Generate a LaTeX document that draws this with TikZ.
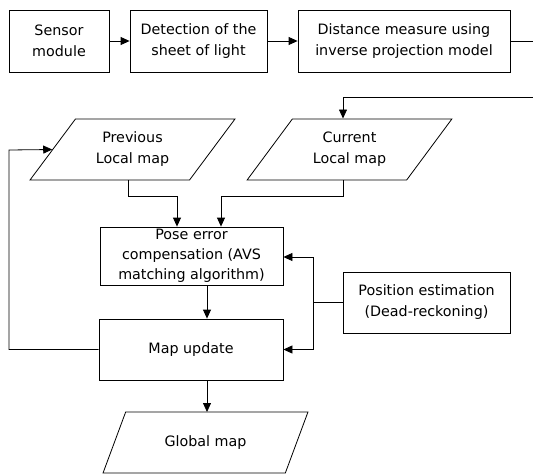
\documentclass[tikz,border=0pt]{standalone}
\usepackage{fontspec}
\setmainfont{DejaVu Sans}
\usetikzlibrary{arrows.meta,shapes.geometric}

\begin{document}
\begin{tikzpicture}[x=1pt,y=-1pt,
  every node/.style={font=\fontsize{14.3}{21}\selectfont, align=center, inner sep=0pt},
  block/.style={draw, rectangle, line width=0.8pt},
  iodata/.style={draw, trapezium, trapezium left angle=50, trapezium right angle=130,
    trapezium stretches=true, minimum width=205, minimum height=61, line width=0.8pt},
  link/.style={line width=0.8pt},
  flow/.style={link, -{Triangle[length=9pt,width=8pt]}}]
\useasboundingbox (0,0) rectangle (533,474);
% top row
\node [block, minimum width=100, minimum height=62] (sensor) at (59,41) {Sensor\\module};
\node [block, minimum width=137, minimum height=62] (detect) at (198.5,41) {Detection of the\\sheet of light};
\node [block, minimum width=212, minimum height=62] (dist) at (404,41) {Distance measure using\\inverse projection model};
% local maps
\node [iodata] (prev) at (132.5,149.5) {Previous\\Local map};
\node [iodata] (cur) at (349.5,149.5) {Current\\Local map};
% processing
\node [block, minimum width=183, minimum height=58, font=\fontsize{14.3}{20}\selectfont] (pose) at (191.5,256) {Pose error\\compensation (AVS\\matching algorithm)};
\node [block, minimum width=184, minimum height=61] (update) at (191,349.5) {Map update};
\node [block, minimum width=167, minimum height=61] (pos) at (426.5,302.5) {Position estimation\\(Dead-reckoning)};
\node [iodata] (global) at (205.5,442.5) {Global map};
% turn points outside the page
\coordinate (out1) at (540,41);
\coordinate (out2) at (540,97);
\draw [flow] (sensor) -- (detect);
\draw [flow] (detect) -- (dist);
\draw [flow] (dist.east) -- (out1) -- (out2) -- (343,97) -- (343,118.5);
\draw [flow] ([xshift=-4]prev.south) -- ++(0,16) -| ([xshift=-14.5]pose.north);
\draw [flow] ([xshift=-6.5]cur.south) -- ++(0,16) -| ([xshift=29.5]pose.north);
\draw [flow] ([xshift=15.5]pose.south) -- ([xshift=16]update.north);
\draw [flow] ([xshift=16]update.south) -- (207,412);
\draw [link] (pos.west) -- (313,302.5);
\draw [flow] (313,302.5) |- (pose.east |- 0,257);
\draw [flow] (313,302.5) |- (update.east);
\draw [flow] (update.west) -| (9,150) -- (prev.west);
\end{tikzpicture}
\end{document}
